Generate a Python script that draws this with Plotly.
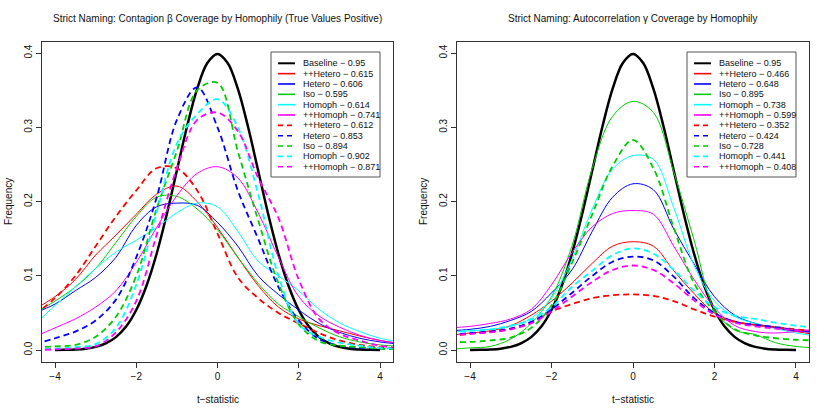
import plotly.graph_objects as go

W, H = 830, 415

# ---------------- data ----------------
X_GRID = [-4.5, -4.0, -3.5, -3.0, -2.5, -2.0, -1.5, -1.0, -0.5, 0.0,
          0.5, 1.0, 1.5, 2.0, 2.5, 3.0, 3.5, 4.0, 4.5]
X_BASE = [-4.0, -3.75, -3.5, -3.25, -3.0, -2.75, -2.5, -2.25, -2.0, -1.75, -1.5,
          -1.25, -1.0, -0.75, -0.5, -0.25, 0.0, 0.25, 0.5, 0.75, 1.0, 1.25, 1.5,
          1.75, 2.0, 2.25, 2.5, 2.75, 3.0, 3.25, 3.5, 3.75, 4.0]
BASELINE = [0.0001, 0.0004, 0.0009, 0.002, 0.0044, 0.0091, 0.0175, 0.0317, 0.054,
            0.0863, 0.1295, 0.1826, 0.242, 0.3011, 0.3521, 0.3867, 0.3989, 0.3867,
            0.3521, 0.3011, 0.242, 0.1826, 0.1295, 0.0863, 0.054, 0.0317, 0.0175,
            0.0091, 0.0044, 0.002, 0.0009, 0.0004, 0.0001]

SERIES_NAMES = ["Baseline", "++Hetero", "Hetero", "Iso", "Homoph", "++Homoph",
                "++Hetero", "Hetero", "Iso", "Homoph", "++Homoph"]
SERIES_COLORS = ["#000000", "#FF0000", "#0000FF", "#00CD00", "#00FFFF", "#FF00FF",
                 "#FF0000", "#0000FF", "#00CD00", "#00FFFF", "#FF00FF"]
SERIES_DASHED = [False, False, False, False, False, False, True, True, True, True, True]

COVERAGE_BETA = [0.95, 0.615, 0.606, 0.595, 0.614, 0.741, 0.612, 0.853, 0.894, 0.902, 0.871]
COVERAGE_GAMMA = [0.95, 0.466, 0.648, 0.895, 0.738, 0.599, 0.352, 0.424, 0.728, 0.441, 0.408]

# Contagion beta densities (left panel), values at X_GRID
BETA_PPHETERO = [0.055, 0.072, 0.095, 0.128, 0.155, 0.183, 0.21, 0.221, 0.2, 0.165,
                 0.125, 0.087, 0.058, 0.042, 0.033, 0.026, 0.019, 0.013, 0.009]
BETA_HETERO = [0.05, 0.062, 0.08, 0.098, 0.125, 0.168, 0.193, 0.198, 0.195, 0.172,
               0.14, 0.1, 0.075, 0.054, 0.036, 0.024, 0.016, 0.011, 0.008]
BETA_ISO = [0.05, 0.066, 0.085, 0.11, 0.145, 0.18, 0.206, 0.207, 0.19, 0.162,
            0.125, 0.09, 0.062, 0.045, 0.03, 0.018, 0.011, 0.007, 0.005]
BETA_HOMOPH = [0.035, 0.06, 0.085, 0.11, 0.132, 0.148, 0.165, 0.185, 0.198, 0.193,
               0.16, 0.12, 0.1, 0.08, 0.055, 0.037, 0.025, 0.016, 0.011]
BETA_PPHOMOPH = [0.018, 0.03, 0.042, 0.058, 0.08, 0.118, 0.165, 0.208, 0.238, 0.247,
                 0.232, 0.185, 0.125, 0.072, 0.046, 0.031, 0.02, 0.013, 0.009]
BETA_PPHETERO_D = [0.048, 0.07, 0.1, 0.14, 0.18, 0.215, 0.245, 0.245, 0.215, 0.157,
                   0.098, 0.07, 0.05, 0.036, 0.023, 0.013, 0.007, 0.004, 0.002]
BETA_HETERO_D = [0.008, 0.016, 0.025, 0.04, 0.068, 0.125, 0.205, 0.31, 0.354, 0.3,
                 0.215, 0.15, 0.085, 0.04, 0.015, 0.006, 0.003, 0.002, 0.001]
BETA_ISO_D = [0.004, 0.005, 0.007, 0.018, 0.045, 0.1, 0.19, 0.268, 0.35, 0.36,
              0.268, 0.175, 0.09, 0.035, 0.012, 0.006, 0.004, 0.002, 0.001]
BETA_HOMOPH_D = [0.001, 0.002, 0.004, 0.008, 0.03, 0.088, 0.185, 0.278, 0.318, 0.338,
                 0.3, 0.21, 0.1, 0.035, 0.018, 0.01, 0.006, 0.003, 0.002]
BETA_PPHOMOPH_D = [0.0, 0.001, 0.002, 0.005, 0.024, 0.066, 0.155, 0.245, 0.31, 0.32,
                   0.295, 0.232, 0.178, 0.095, 0.042, 0.022, 0.013, 0.006, 0.003]

# Autocorrelation gamma densities (right panel), values at X_GRID
GAMMA_PPHETERO = [0.02, 0.023, 0.026, 0.033, 0.047, 0.066, 0.09, 0.117, 0.14, 0.146,
                  0.14, 0.107, 0.076, 0.05, 0.039, 0.034, 0.03, 0.025, 0.021]
GAMMA_HETERO = [0.026, 0.028, 0.032, 0.04, 0.052, 0.077, 0.108, 0.16, 0.206, 0.224,
                0.216, 0.163, 0.116, 0.072, 0.047, 0.036, 0.03, 0.026, 0.024]
GAMMA_ISO = [0.001, 0.003, 0.005, 0.015, 0.036, 0.072, 0.14, 0.245, 0.315, 0.335,
             0.32, 0.24, 0.148, 0.055, 0.027, 0.021, 0.01, 0.005, 0.003]
GAMMA_HOMOPH = [0.024, 0.026, 0.028, 0.032, 0.043, 0.07, 0.122, 0.19, 0.244, 0.262,
                0.257, 0.192, 0.114, 0.066, 0.045, 0.036, 0.029, 0.023, 0.019]
GAMMA_PPHOMOPH = [0.03, 0.032, 0.036, 0.042, 0.055, 0.088, 0.131, 0.166, 0.184, 0.188,
                  0.183, 0.14, 0.095, 0.057, 0.033, 0.025, 0.023, 0.025, 0.027]
GAMMA_PPHETERO_D = [0.019, 0.022, 0.025, 0.029, 0.037, 0.052, 0.062, 0.07, 0.074, 0.075,
                    0.073, 0.066, 0.055, 0.045, 0.038, 0.034, 0.031, 0.028, 0.025]
GAMMA_HETERO_D = [0.02, 0.023, 0.025, 0.029, 0.038, 0.055, 0.077, 0.1, 0.119, 0.126,
                  0.121, 0.099, 0.07, 0.05, 0.038, 0.034, 0.031, 0.027, 0.024]
GAMMA_ISO_D = [0.011, 0.011, 0.013, 0.017, 0.03, 0.06, 0.117, 0.183, 0.248, 0.283,
               0.245, 0.165, 0.09, 0.052, 0.028, 0.02, 0.016, 0.014, 0.013]
GAMMA_HOMOPH_D = [0.024, 0.026, 0.028, 0.033, 0.041, 0.058, 0.085, 0.107, 0.128, 0.137,
                  0.13, 0.108, 0.08, 0.058, 0.046, 0.042, 0.037, 0.033, 0.03]
GAMMA_PPHOMOPH_D = [0.02, 0.022, 0.024, 0.028, 0.036, 0.052, 0.072, 0.092, 0.108, 0.114,
                    0.108, 0.09, 0.067, 0.048, 0.037, 0.032, 0.029, 0.027, 0.026]

BETA_CURVES = [BETA_PPHETERO, BETA_HETERO, BETA_ISO, BETA_HOMOPH, BETA_PPHOMOPH,
               BETA_PPHETERO_D, BETA_HETERO_D, BETA_ISO_D, BETA_HOMOPH_D, BETA_PPHOMOPH_D]
GAMMA_CURVES = [GAMMA_PPHETERO, GAMMA_HETERO, GAMMA_ISO, GAMMA_HOMOPH, GAMMA_PPHOMOPH,
                GAMMA_PPHETERO_D, GAMMA_HETERO_D, GAMMA_ISO_D, GAMMA_HOMOPH_D, GAMMA_PPHOMOPH_D]

TITLE_BETA = "Strict Naming: Contagion \u03b2 Coverage by Homophily (True Values Positive)"
TITLE_GAMMA = "Strict Naming: Autocorrelation \u03b3 Coverage by Homophily"
X_TITLE = "t\u2212statistic"
Y_TITLE = "Frequency"
X_TICKS = [-4, -2, 0, 2, 4]
Y_TICKS = [0.0, 0.1, 0.2, 0.3, 0.4]

# ---------------- layout constants (pixels) ----------------
FONT = "Liberation Sans, Arial, Helvetica, sans-serif"
PANELS = [(42, 393), (457, 809)]   # left/right px of plot boxes
TOP, BOTTOM = 42, 362


def px(x):
    return x / W


def py(y):
    return 1 - y / H


fig = go.Figure()
shapes = []
annotations = []


def line_style(i):
    if i == 0:
        return dict(color=SERIES_COLORS[i], width=2.5)
    if SERIES_DASHED[i]:
        return dict(color=SERIES_COLORS[i], width=1.8, dash="6px,4px")
    return dict(color=SERIES_COLORS[i], width=1.0)


for p, (curves, coverage, title) in enumerate(
        [(BETA_CURVES, COVERAGE_BETA, TITLE_BETA), (GAMMA_CURVES, COVERAGE_GAMMA, TITLE_GAMMA)]):
    xa = "x" if p == 0 else "x2"
    ya = "y" if p == 0 else "y2"
    fig.add_trace(go.Scatter(x=X_BASE, y=BASELINE, mode="lines", line=line_style(0),
                             line_shape="spline", xaxis=xa, yaxis=ya, showlegend=False,
                             name=SERIES_NAMES[0]))
    for k, ys in enumerate(curves):
        i = k + 1
        fig.add_trace(go.Scatter(x=X_GRID, y=ys, mode="lines", line=line_style(i),
                                 line_shape="spline", xaxis=xa, yaxis=ya, showlegend=False,
                                 name=SERIES_NAMES[i]))
    left, right = PANELS[p]
    cx = (left + right) / 2
    annotations.append(dict(text=title, x=px(cx), y=py(18), xref="paper", yref="paper",
                            showarrow=False, xanchor="center", yanchor="middle",
                            font=dict(family=FONT, size=10, color="#111")))
    annotations.append(dict(text=X_TITLE, x=px(cx), y=py(399), xref="paper", yref="paper",
                            showarrow=False, xanchor="center", yanchor="middle",
                            font=dict(family=FONT, size=10, color="#111")))
    annotations.append(dict(text=Y_TITLE, x=px(left - 33), y=py((TOP + BOTTOM) / 2),
                            xref="paper", yref="paper", textangle=-90,
                            showarrow=False, xanchor="center", yanchor="middle",
                            font=dict(family=FONT, size=10, color="#111")))
    # legend box
    lb_l, lb_r = right - 122, right - 13
    lb_t, lb_b = 52, 177
    shapes.append(dict(type="rect", xref="paper", yref="paper",
                       x0=px(lb_l), x1=px(lb_r), y0=py(lb_b), y1=py(lb_t),
                       line=dict(color="#555", width=1), fillcolor="white", layer="above"))
    row0, row_h = 63.3, 10.34
    for i in range(len(SERIES_NAMES)):
        yy = row0 + i * row_h
        st = dict(line_style(i))
        if i == 0:
            st["width"] = 2.0
        elif SERIES_DASHED[i]:
            st["dash"] = "5px,4px"
            st["width"] = 1.6
        else:
            st["width"] = 1.6
        shapes.append(dict(type="line", xref="paper", yref="paper", layer="above",
                           x0=px(lb_l + 7), x1=px(lb_l + 24), y0=py(yy), y1=py(yy), line=st))
        annotations.append(dict(text=f"{SERIES_NAMES[i]} \u2212 {coverage[i]}",
                                x=px(lb_l + 29.5), y=py(yy), xref="paper", yref="paper",
                                showarrow=False, xanchor="left", yanchor="middle",
                                font=dict(family=FONT, size=9, color="#111")))

axis_common = dict(showline=True, mirror=True, linecolor="#333", linewidth=1,
                   ticks="outside", ticklen=5, tickcolor="#333", tickwidth=1,
                   showgrid=False, zeroline=False, automargin=False,
                   tickfont=dict(family=FONT, size=10, color="#111"))

yrange = [-0.016, 0.415]
xrange = [-4.32, 4.32]
ydom = [py(BOTTOM), py(TOP)]

fig.update_layout(
    width=W, height=H,
    margin=dict(l=0, r=0, t=0, b=0),
    paper_bgcolor="white", plot_bgcolor="white",
    showlegend=False,
    hovermode=False,
    xaxis=dict(domain=[px(PANELS[0][0]), px(PANELS[0][1])], range=xrange,
               tickvals=X_TICKS, anchor="y", **axis_common),
    yaxis=dict(domain=ydom, range=yrange, tickvals=Y_TICKS,
               ticktext=[f"{v:.1f}" for v in Y_TICKS], tickangle=-90, anchor="x",
               **axis_common),
    xaxis2=dict(domain=[px(PANELS[1][0]), px(PANELS[1][1])], range=xrange,
                tickvals=X_TICKS, anchor="y2", **axis_common),
    yaxis2=dict(domain=ydom, range=yrange, tickvals=Y_TICKS,
                ticktext=[f"{v:.1f}" for v in Y_TICKS], tickangle=-90, anchor="x2",
                **axis_common),
    shapes=shapes,
    annotations=annotations,
)

# remove the browser's default 8px body margin so the figure fills the window
fig.write_html("out.html",
               config={"displayModeBar": False},
               post_script="document.body.style.margin='0px';document.body.style.overflow='hidden';")
